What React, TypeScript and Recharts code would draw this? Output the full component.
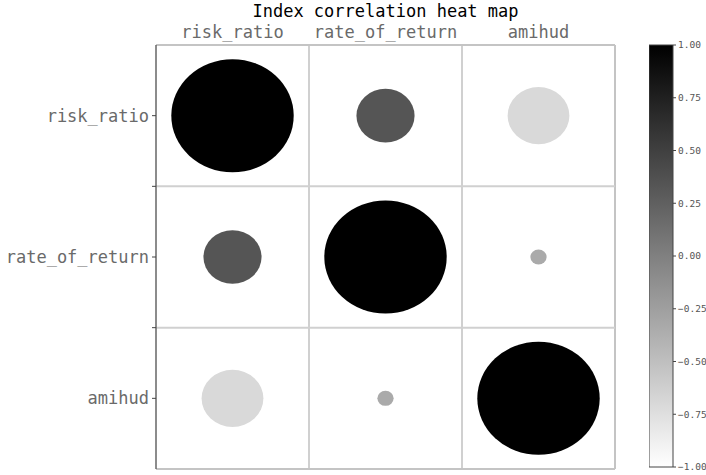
import { ScatterChart, Scatter, XAxis, YAxis, ReferenceLine, BarChart, Bar } from 'recharts';

const names = ['risk_ratio', 'rate_of_return', 'amihud'];

// correlation values (drive the grey level)
const corrRiskRatio = [1.0, 0.33, -0.7];
const corrRateOfReturn = [0.33, 1.0, -0.33];
const corrAmihud = [-0.7, -0.33, 1.0];

// circle size factor as drawn
const sizeRiskRatio = [1.0, 0.475, 0.505];
const sizeRateOfReturn = [0.475, 1.0, 0.133];
const sizeAmihud = [0.505, 0.133, 1.0];

const colorbarTicks = [1, 0.75, 0.5, 0.25, 0, -0.25, -0.5, -0.75, -1];

const corrRows = [corrRiskRatio, corrRateOfReturn, corrAmihud];
const sizeRows = [sizeRiskRatio, sizeRateOfReturn, sizeAmihud];

const cells = corrRows.flatMap((row, r) =>
  row.map((corr, c) => ({ x: c + 0.5, y: r + 0.5, corr, size: sizeRows[r][c] }))
);

const colorbarData = [{ name: 'cb', range: [-1, 1] }];

const FONT = '"DejaVu Sans Mono", "Liberation Mono", monospace';

// plot box in pixels
const PLOT_LEFT = 156;
const PLOT_TOP = 45;
const PLOT_RIGHT = 615;
const PLOT_BOTTOM = 469;
const CELL_W = (PLOT_RIGHT - PLOT_LEFT) / 3;
const CELL_H = (PLOT_BOTTOM - PLOT_TOP) / 3;

// gray_r colormap: -1 -> white, 1 -> black
const grayR = (v: number) => {
  const t = (v + 1) / 2;
  const g = Math.round(255 * (1 - t));
  const h = g.toString(16).padStart(2, '0');
  return `#${h}${h}${h}`;
};

const Bubble = (props: any) => {
  const { cx, cy, payload } = props;
  return (
    <ellipse
      cx={cx}
      cy={cy}
      rx={payload.size * 0.4 * CELL_W}
      ry={payload.size * 0.4 * CELL_H}
      fill={grayR(payload.corr)}
    />
  );
};

const fmtY = (v: number) => (Number.isInteger(v) ? '' : names[Math.floor(v)]);
const fmtX = (v: number) => names[Math.floor(v)];
const fmtCb = (v: number) => (v < 0 ? '\u2212' : '') + Math.abs(v).toFixed(2);

const App = () => {
  return (
    <div style={{ position: 'absolute', left: 0, top: 0, width: 706, height: 475, background: '#fff' }}>
      <div
        style={{
          position: 'absolute',
          left: PLOT_LEFT,
          width: PLOT_RIGHT - PLOT_LEFT,
          top: 3,
          textAlign: 'center',
          fontFamily: FONT,
          fontSize: 17,
          color: '#000',
          lineHeight: '17px',
        }}
      >
        Index correlation heat map
      </div>
      <ScatterChart
        width={706}
        height={475}
        margin={{ top: PLOT_TOP - 30, left: PLOT_LEFT - 150, right: 706 - PLOT_RIGHT, bottom: 475 - PLOT_BOTTOM }}
      >
        <XAxis
          type="number"
          dataKey="x"
          orientation="top"
          domain={[0, 3]}
          ticks={[0.5, 1.5, 2.5]}
          tickFormatter={fmtX}
          height={30}
          tickLine={false}
          axisLine={{ stroke: '#c4c4c4', strokeWidth: 2 }}
          tick={{ fill: '#6a6a6a', fontSize: 17, fontFamily: FONT }}
          tickMargin={1}
        />
        <YAxis
          type="number"
          dataKey="y"
          domain={[0, 3]}
          reversed
          ticks={[0.5, 1, 1.5, 2, 2.5]}
          tickFormatter={fmtY}
          width={150}
          axisLine={{ stroke: '#666', strokeWidth: 1.5 }}
          tickLine={{ stroke: '#444' }}
          tickSize={4}
          tickMargin={3}
          tick={{ fill: '#6a6a6a', fontSize: 17, fontFamily: FONT }}
        />
        <ReferenceLine x={1} stroke="#d0d0d0" strokeWidth={2} />
        <ReferenceLine x={2} stroke="#d0d0d0" strokeWidth={2} />
        <ReferenceLine x={3} stroke="#c4c4c4" strokeWidth={2} />
        <ReferenceLine y={1} stroke="#d0d0d0" strokeWidth={2} />
        <ReferenceLine y={2} stroke="#d0d0d0" strokeWidth={2} />
        <ReferenceLine y={3} stroke="#c4c4c4" strokeWidth={2} />
        <Scatter data={cells} shape={Bubble} isAnimationActive={false} />
      </ScatterChart>
      <div style={{ position: 'absolute', left: 649, top: 0 }}>
        <BarChart
          width={57}
          height={475}
          data={colorbarData}
          margin={{ top: 45, left: 0, right: 0, bottom: 8 }}
          barCategoryGap={0}
          barGap={0}
        >
          <defs>
            <linearGradient id="cbGrad" x1="0" y1="0" x2="0" y2="1">
              {colorbarTicks.map((v, i) => (
                <stop key={i} offset={`${(i / (colorbarTicks.length - 1)) * 100}%`} stopColor={grayR(v)} />
              ))}
            </linearGradient>
          </defs>
          <XAxis dataKey="name" hide />
          <YAxis
            orientation="right"
            type="number"
            domain={[-1, 1]}
            ticks={colorbarTicks}
            tickFormatter={fmtCb}
            width={33}
            axisLine={false}
            tickLine={{ stroke: '#444' }}
            tickSize={3}
            tickMargin={2}
            tick={{ fill: '#555', fontSize: 9.5, fontFamily: FONT }}
            interval={0}
          />
          <Bar dataKey="range" fill="url(#cbGrad)" stroke="#444" strokeWidth={1} isAnimationActive={false} />
        </BarChart>
      </div>
    </div>
  );
};

export default App;
